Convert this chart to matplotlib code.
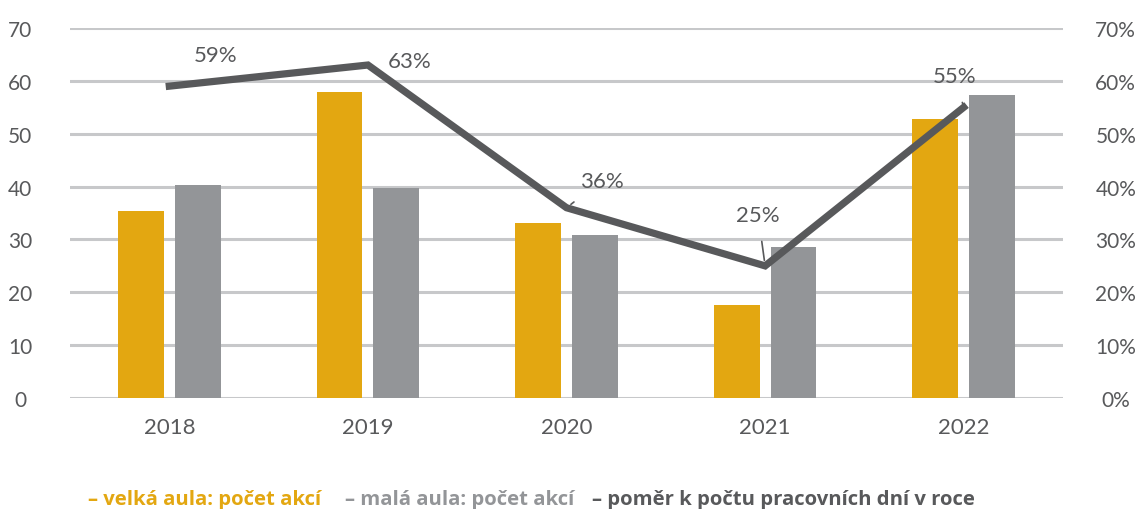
import matplotlib.pyplot as plt
import numpy as np

years = ["2018", "2019", "2020", "2021", "2022"]
velka = [35.4, 57.9, 33.1, 17.6, 52.8]
mala = [40.3, 39.8, 30.8, 28.6, 57.3]
pomer = [59, 63, 36, 25, 55]
pomer_labels = ["59%", "63%", "36%", "25%", "55%"]

GOLD = "#e3a711"
GRAY = "#939598"
DARK = "#58595b"
GRID = "#c7c8ca"

plt.rcParams['font.family'] = ['Lato', 'DejaVu Sans']

fig = plt.figure(figsize=(11.46, 5.10), dpi=100)
ax = fig.add_axes([0.0611, 0.2176, 0.8665, 0.7255])
x = np.arange(len(years))

ax.bar(x - 0.143, velka, width=0.23, color=GOLD, zorder=2)
ax.bar(x + 0.143, mala, width=0.23, color=GRAY, zorder=2)
ax.set_xlim(-0.5, 4.5)
ax.set_ylim(0, 70)
ax.set_yticks(range(0, 71, 10))
ax.yaxis.grid(True, color=GRID, lw=2.2, zorder=0)
ax.set_axisbelow(True)
for s in ax.spines.values():
    s.set_visible(False)
ax.tick_params(axis='y', length=0, pad=36, labelsize=15, labelcolor=DARK)
for lbl in ax.get_yticklabels():
    lbl.set_horizontalalignment('center')
ax.set_xticks(x)
ax.set_xticklabels(years)
ax.tick_params(axis='x', length=0, pad=14, labelsize=16, labelcolor=DARK)

# pravá osa - procenta
ax2 = ax.twinx()
ax2.set_ylim(0, 70)
ax2.set_yticks(range(0, 71, 10))
ax2.set_yticklabels([f"{v}%" for v in range(0, 71, 10)])
for s in ax2.spines.values():
    s.set_visible(False)
ax2.tick_params(axis='y', length=0, pad=38, labelsize=15, labelcolor=DARK)
for lbl in ax2.get_yticklabels():
    lbl.set_horizontalalignment('center')
ax2.plot(x, pomer, color=DARK, lw=5.2, solid_joinstyle='miter', zorder=3)

offsets = [(46, 31), (42, 4), (35, 27), (-7, 51), (-9, 31)]
leaders = [False, False, True, True, True]
for i, (lab, off, lead) in enumerate(zip(pomer_labels, offsets, leaders)):
    ap = dict(arrowstyle='-', color=DARK, lw=1.2, shrinkA=10, shrinkB=4) if lead else None
    ax2.annotate(lab, (x[i], pomer[i]), xytext=off, textcoords='offset pixels',
                 ha='center', va='center', fontsize=16, color=DARK, arrowprops=ap)

# legenda dole
leg_y = 1 - 505 / 510
leg_font = dict(fontsize=14.6, fontweight='bold', family=['Open Sans', 'DejaVu Sans'],
                ha='left', va='baseline')
fig.text(88 / 1146, leg_y, "– velká aula: počet akcí", color=GOLD, **leg_font)
fig.text(345 / 1146, leg_y, "– malá aula: počet akcí", color=GRAY, **leg_font)
fig.text(592 / 1146, leg_y, "– poměr k počtu pracovních dní v roce", color=DARK, **leg_font)

fig.savefig("out.png", dpi=100)
